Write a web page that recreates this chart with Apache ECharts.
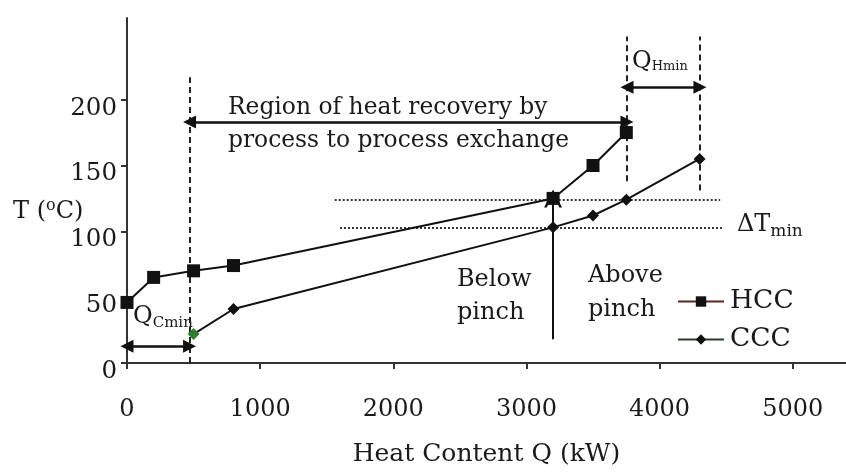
<!DOCTYPE html>
<html><head><meta charset="utf-8">
<script src="https://cdn.jsdelivr.net/npm/echarts@6/dist/echarts.min.js"></script>
<style>html,body{margin:0;padding:0;background:#fff}#c{width:846px;height:472px}</style>
</head><body><div id="c"></div>
<script>
// ---- data ----
const hccQ = [0, 200, 500, 800, 3200, 3500, 3750];
const hccT = [46, 65, 70, 74, 125, 150, 175];
const cccQ = [500, 800, 3200, 3500, 3750, 4300];
const cccT = [22, 41, 103, 112, 124, 155];
const xTicks = [0, 1000, 2000, 3000, 4000, 5000];
const yTicks = [0, 50, 100, 150, 200];
// annotation lines [q1, t1, q2, t2]
const dashedLines = [[470, 0, 470, 217], [3750, 138, 3750, 248], [4300, 131, 4300, 248]];
const dottedLines = [[1560, 124, 4455, 124], [1600, 102.5, 4475, 102.5]];
const doubleArrows = [[0, 12.7, 470, 12.7], [470, 183, 3755, 183], [3755, 209.5, 4303, 209.5]];
const pinchArrow = [3200, 18, 3200, 125];
// text annotations [q, t, text]
const texts = [
  [758, 194, 'Region of heat recovery by'],
  [758, 169, 'process to process exchange'],
  [2478, 63, 'Below'],
  [2478, 38, 'pinch'],
  [3462, 66, 'Above'],
  [3462, 40.5, 'pinch']
];
const richTexts = [
  [45, 35, '{a|Q}{b|Cmin}'],
  [3793, 229, '{a|Q}{c|Hmin}'],
  [4581, 105, '{a|ΔT}{d|min}'],
  [-856, 115, '{a|T (}{s|o}{a|C)}']
];

const FONT = 'DejaVu Serif';
const TXT = '#1a1a1a';
const chart = echarts.init(document.getElementById('c'));

function seg(a, s1, s2) {
  return [{coord: [a[0], a[1]], symbol: s1 || 'none'}, {coord: [a[2], a[3]], symbol: s2 || 'none'}];
}
const rich = {
  a: {fontFamily: FONT, fontSize: 24, color: TXT},
  b: {fontFamily: FONT, fontSize: 15, color: TXT, padding: [13, 0, 0, 0]},
  c: {fontFamily: FONT, fontSize: 13, color: TXT, padding: [10, 0, 0, 0]},
  d: {fontFamily: FONT, fontSize: 17, color: TXT, padding: [13, 0, 0, 0]},
  s: {fontFamily: FONT, fontSize: 16, color: TXT, padding: [0, 0, 12, 0]}
};
const labelPts = texts.map(t => ({
  value: [t[0], t[1]],
  label: {show: true, formatter: t[2], position: 'right', distance: 0, align: 'left', verticalAlign: 'middle',
    fontFamily: FONT, fontSize: t[2].length > 10 ? 23.4 : 24, color: TXT}
})).concat(richTexts.map(t => ({
  value: [t[0], t[1]],
  label: {show: true, formatter: t[2], position: 'right', distance: 0, align: 'left', verticalAlign: 'middle', rich: rich}
})));

const option = {
  animation: false,
  backgroundColor: '#fff',
  grid: {left: 127, top: 18, width: 719, height: 349},
  legend: {
    orient: 'vertical', left: 677, top: 288, padding: 0, itemGap: 11,
    itemWidth: 46, itemHeight: 13,
    textStyle: {fontFamily: FONT, fontSize: 26.5, color: TXT, padding: [0, 0, 0, 1]},
    data: [
      {name: 'HCC', lineStyle: {color: '#5a2525', width: 2}},
      {name: 'CCC', lineStyle: {color: '#2a3a2a', width: 2}}
    ]
  },
  xAxis: {
    type: 'value', min: 0, max: 5400,
    splitLine: {show: false},
    axisLine: {lineStyle: {color: '#333', width: 2}},
    axisTick: {show: true, length: 6, lineStyle: {color: '#333', width: 2}, customValues: xTicks},
    axisLabel: {customValues: xTicks, fontFamily: FONT, fontSize: 24, color: TXT, margin: 35,
      formatter: v => String(v)},
    name: 'Heat Content Q (kW)', nameLocation: 'middle', nameGap: 79,
    nameTextStyle: {fontFamily: FONT, fontSize: 25, color: TXT}
  },
  yAxis: {
    type: 'value', min: 0, max: 262,
    splitLine: {show: false},
    axisLine: {show: true, lineStyle: {color: '#333', width: 2}},
    axisTick: {show: true, length: 6, lineStyle: {color: '#333', width: 2}, customValues: yTicks},
    axisLabel: {customValues: yTicks, margin: 10,
      formatter: v => '{v|' + v + '}',
      rich: {v: {fontFamily: FONT, fontSize: 24.5, color: TXT, padding: [17, 0, 0, 0]}}}
  },
  series: [
    {
      name: 'HCC', type: 'line', z: 5,
      data: hccQ.map((q, i) => [q, hccT[i]]),
      symbol: 'rect', symbolSize: 13,
      lineStyle: {color: '#111', width: 2},
      itemStyle: {color: '#111'}
    },
    {
      name: 'CCC', type: 'line', z: 5,
      data: cccQ.map((q, i) => i === 0 ? {value: [q, cccT[i]], itemStyle: {color: '#2f7f2f'}} : [q, cccT[i]]),
      symbol: 'diamond', symbolSize: 12,
      lineStyle: {color: '#111', width: 2},
      itemStyle: {color: '#111'}
    },
    {
      name: 'annot', type: 'scatter', symbolSize: 0, clip: false, silent: true, z: 3,
      itemStyle: {opacity: 1},
      data: labelPts,
      markLine: {
        silent: true, animation: false, label: {show: false}, symbolSize: 13,
        data: [].concat(
          dashedLines.map(a => seg(a)).map(d => { d[0].lineStyle = {type: [6, 4], color: '#222', width: 2}; return d; }),
          dottedLines.map(a => seg(a)).map(d => { d[0].lineStyle = {type: [2, 2], color: '#333', width: 2}; return d; }),
          doubleArrows.map(a => seg(a, 'triangle', 'triangle')).map(d => { d[0].lineStyle = {type: 'solid', color: '#111', width: 2.5}; return d; }),
          [(function () { const d = seg(pinchArrow, 'none', 'path://M0,20 L10,0 L20,20 L17,20 L10,6 L3,20 Z'); d[0].lineStyle = {type: 'solid', color: '#111', width: 2}; d[1].symbolSize = 18; return d; })()]
        )
      }
    }
  ]
};
chart.setOption(option);
</script></body></html>
